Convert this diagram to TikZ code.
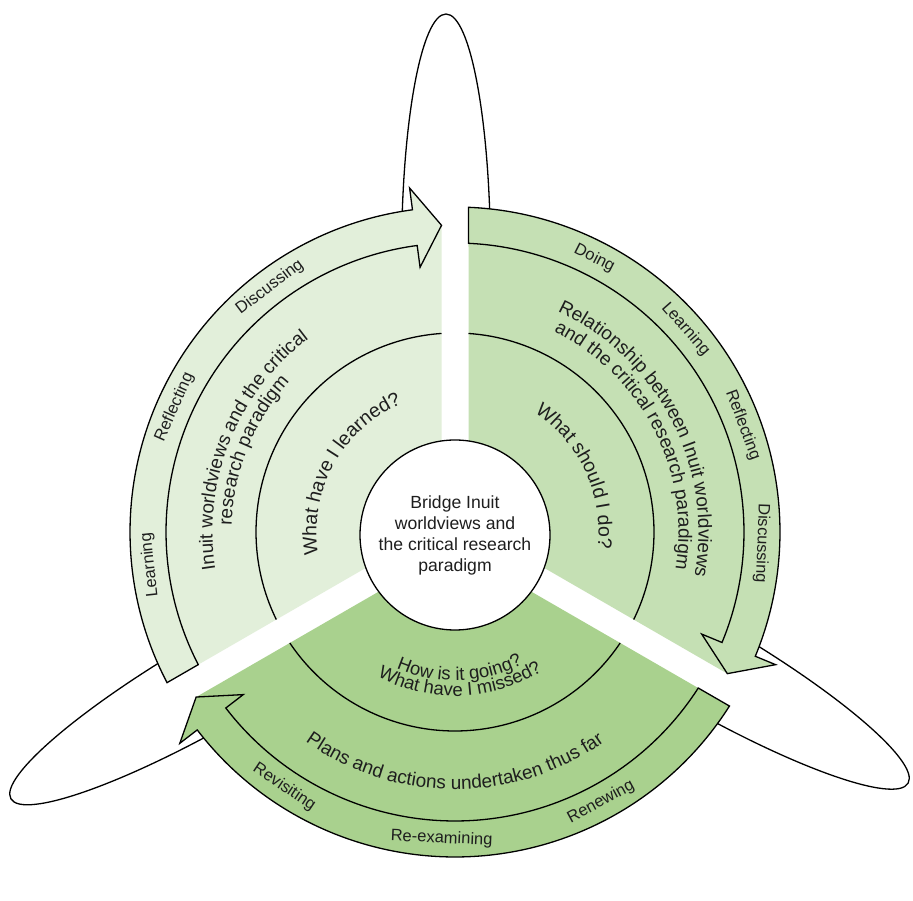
\documentclass[tikz,border=0pt]{standalone}
\usepackage{fontspec}
\setmainfont{Liberation Sans}
\usetikzlibrary{decorations.text}
\definecolor{gA}{HTML}{E2EFDA}
\definecolor{gB}{HTML}{C5E0B4}
\definecolor{gC}{HTML}{A9D18E}
\definecolor{txt}{HTML}{1E1E1E}
\newcommand\fmid{\fontsize{19}{19}\selectfont}
\newcommand\finn{\fontsize{19.5}{19.5}\selectfont}
\newcommand\fbot{\fontsize{18.5}{18.5}\selectfont}
% wedge fill: #1 low gap angle, #2 high gap angle, #3 colour
\newcommand\wedgefill[3]{%
  \fill[#3] ({(#1+#2)/2}:15.59) -- ({#1+asin(13.5/306)}:306)
    arc[start angle={#1+asin(13.5/306)}, end angle={#2-asin(13.5/306)}, radius=306] -- cycle;}
% ring arc inside a sector
\newcommand\ringarc[2]{%
  \draw[outl] ({#1+asin(13.5/199)}:199)
    arc[start angle={#1+asin(13.5/199)}, end angle={#2-asin(13.5/199)}, radius=199];}
% curved block arrow: #1 tail gap angle, #2 head gap angle, #3 colour
\newcommand\cyclearrow[3]{%
  \filldraw[outl, fill=#3] ({#1-asin(13.5/289)}:289) -- ({#1-asin(13.5/325)}:325)
    arc[start angle={#1-asin(13.5/325)}, end angle={#2+asin(13.5/307)+5}, radius=325]
    -- ({#2+asin(13.5/307)+5}:347) -- ({#2+asin(13.5/307)}:307)
    -- ({#2+asin(13.5/307)+5}:267) -- ({#2+asin(13.5/307)+5}:289)
    arc[start angle={#2+asin(13.5/307)+5}, end angle={#1-asin(13.5/289)}, radius=289] -- cycle;}
\begin{document}
\begin{tikzpicture}[x=1pt,y=1pt,
  outl/.style={draw=black, line width=1.3pt, line join=miter},
  loopline/.style={draw=black, line width=1.3pt},
  word/.style={font=\fontsize{16.5}{16.5}\selectfont, text=txt, inner sep=0pt}]
\useasboundingbox (0,0) rectangle (913,900);
\fill[white] (0,0) rectangle (913,900);
\begin{scope}[shift={(455,368)}]
  % loops behind
  \foreach \r in {0,120,240}
    \draw[loopline, rotate=\r] (-9,275) ellipse [x radius=44.5, y radius=243];
  % sector fills
  \wedgefill{90}{210}{gA}
  \wedgefill{-30}{90}{gB}
  \wedgefill{210}{330}{gC}
  % ring arcs
  \ringarc{90}{210}
  \ringarc{-30}{90}
  \ringarc{210}{330}
  % arrows
  \cyclearrow{210}{90}{gA}
  \cyclearrow{90}{-30}{gB}
  \cyclearrow{330}{210}{gC}
  % hub
  \node[circle, draw=black, line width=1.3pt, fill=white, minimum size=190pt, inner sep=0pt,
        align=center, font=\fontsize{17.6}{21}\selectfont, text=txt] (hub) at (0,-3)
        {Bridge Inuit\\worldviews and\\the critical research\\paradigm};
  % outer words, left
  \node[word, rotate=96.2] (wL1) at (186.2:307) {Learning};
  \node[word, rotate=66] (wL2) at (156:307) {Reflecting};
  \node[word, rotate=37.1] (wL3) at (127.1:307) {Discussing};
  % outer words, right
  \node[word, rotate=-27] (wR1) at (63:307) {Doing};
  \node[word, rotate=-48.7] (wR2) at (41.3:307) {Learning};
  \node[word, rotate=-69.6] (wR3) at (20.4:307) {Reflecting};
  \node[word, rotate=-92.1] (wR4) at (-2.1:307) {Discussing};
  % outer words, bottom
  \node[word, rotate=326.2] (wB1) at (236.2:307) {Revisiting};
  \node[word, rotate=357.5] (wB2) at (267.5:307) {Re-examining};
  \node[word, rotate=28.4] (wB3) at (298.4:307) {Renewing};
  % middle band
  \path[decorate, decoration={text along path, text align=center, text color=txt,
    text={|\fmid|Inuit worldviews and the critical}}]
    (210:242.5) arc[start angle=210, end angle=106, radius=242.5];
  \path[decorate, decoration={text along path, text align=center, text color=txt,
    text={|\fmid|research paradigm}}]
    (208:223.5) arc[start angle=208, end angle=108, radius=223.5];
  \path[decorate, decoration={text along path, text align=center, text color=txt,
    text={|\fmid|Relationship between Inuit worldviews}}]
    (77.3:243.5) arc[start angle=77.3, end angle=-22.7, radius=243.5];
  \path[decorate, decoration={text along path, text align=center, text color=txt,
    text={|\fmid|and the critical research paradigm}}]
    (77.1:223.5) arc[start angle=77.1, end angle=-22.9, radius=223.5];
  \path[decorate, decoration={text along path, text align=center, text color=txt,
    text={|\fmid|Plans and actions undertaken thus far}}]
    (215:257.5) arc[start angle=215, end angle=325, radius=257.5];
  % inner band
  \path[decorate, decoration={text along path, text align=center, text color=txt,
    text={|\finn|What have I learned?}}]
    (211:138.5) arc[start angle=211, end angle=91, radius=138.5];
  \path[decorate, decoration={text along path, text align=center, text color=txt,
    text={|\finn|What should I do?}}]
    (85:143.5) arc[start angle=85, end angle=-35, radius=143.5];
  \path[decorate, decoration={text along path, text align=center, text color=txt,
    text={|\fbot|How is it going?}}]
    (222:148.5) arc[start angle=222, end angle=322, radius=148.5];
  \path[decorate, decoration={text along path, text align=center, text color=txt,
    text={|\fbot|What have I missed?}}]
    (222:164) arc[start angle=222, end angle=322, radius=164];
\end{scope}
\end{tikzpicture}
\end{document}
